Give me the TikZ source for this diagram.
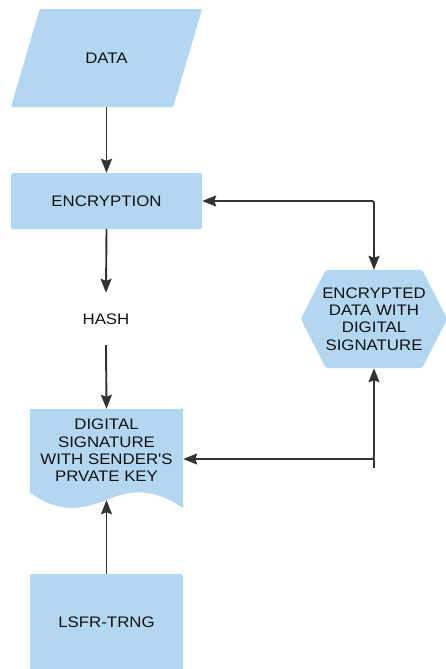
\documentclass[tikz,border=0pt]{standalone}
\usepackage{fontspec}
\setmainfont{Liberation Sans}[FakeStretch=1.1, Ligatures=TeXOff]
\usetikzlibrary{arrows.meta,backgrounds,calc}

\definecolor{shapefill}{HTML}{B3D7F0}
\definecolor{linegray}{HTML}{333333}
\definecolor{labeltext}{HTML}{111111}

\begin{document}
\begin{tikzpicture}[x=1pt,y=-1pt,
  every node/.style={font=\fontsize{15.3}{17.3}\selectfont, text=labeltext,
    align=center, inner sep=0pt},
  box/.style={fill=shapefill, rounded corners=1.5pt},
  flow/.style={draw=linegray, line width=1.9pt,
    -{Stealth[length=14pt,width=11pt,inset=2pt]}},
  twoway/.style={draw=linegray, line width=1.9pt, rounded corners=2pt,
    {Stealth[length=14pt,width=11pt,inset=2pt]}-{Stealth[length=14pt,width=11pt,inset=2pt]}},
  plainline/.style={draw=linegray, line width=1.9pt}
]
\useasboundingbox (0,0) rectangle (446,669);

% nodes
\node[minimum width=191pt, minimum height=98pt] (data) at (106.5,58) {DATA};
\node[box, minimum width=191pt, minimum height=56pt] (enc) at (106.5,201) {ENCRYPTION};
\node[minimum width=60pt, minimum height=52pt] (hash) at (106,319) {HASH};
\node[minimum width=153pt, minimum height=83pt] (sig) at (106.5,450.5)
  {DIGITAL\\SIGNATURE\\WITH SENDER'S\\PRVATE KEY};
\node[box, minimum width=153pt, minimum height=96pt] (rng) at (106.5,622) {LSFR-TRNG};
\node[minimum width=146pt, minimum height=98pt] (hex) at (374,319)
  {ENCRYPTED\\DATA WITH\\DIGITAL\\SIGNATURE};

\coordinate (sigtip) at ($(sig.south)+(0,8)$);
\coordinate (sigjoin) at ($(sig.east)+(0,8.5)$);

% shape outlines behind the labels
\begin{scope}[on background layer]
  % input/output parallelogram
  \fill[shapefill, rounded corners=1.5pt]
    ($(data.north west)+(29,0)$) -- (data.north east)
    -- ($(data.south east)+(-29,0)$) -- (data.south west) -- cycle;
  % hexagon
  \fill[shapefill, rounded corners=2pt]
    (hex.west) -- ($(hex.north west)+(25,0)$) -- ($(hex.north east)+(-25,0)$)
    -- (hex.east) -- ($(hex.south east)+(-25,0)$) -- ($(hex.south west)+(25,0)$)
    -- cycle;
  % document with wavy bottom
  \fill[shapefill]
    (sig.south west) -- (sig.north west) -- (sig.north east)
    -- ($(sig.south east)+(0,16)$)
    .. controls ($(sig.south west)+(125,-4)$) and ($(sig.south west)+(100,-3)$) .. (sigtip)
    .. controls ($(sig.south west)+(55,16)$) and ($(sig.south west)+(30,23)$) .. (sig.south west)
    -- cycle;
\end{scope}

% connectors
\draw[flow] (data.south) -- (enc.north);
\draw[flow] (enc.south) -- (hash.north);
\draw[flow] (hash.south) -- (sig.north);
\draw[flow] (rng.north) -- (sigtip);
\draw[twoway] (enc.east) -| (hex.north);
\draw[twoway] (sigjoin) -- (sigjoin -| hex.south) -- (hex.south);
\draw[plainline] (sigjoin -| hex.south) -- ++(0,9);
\end{tikzpicture}
\end{document}
